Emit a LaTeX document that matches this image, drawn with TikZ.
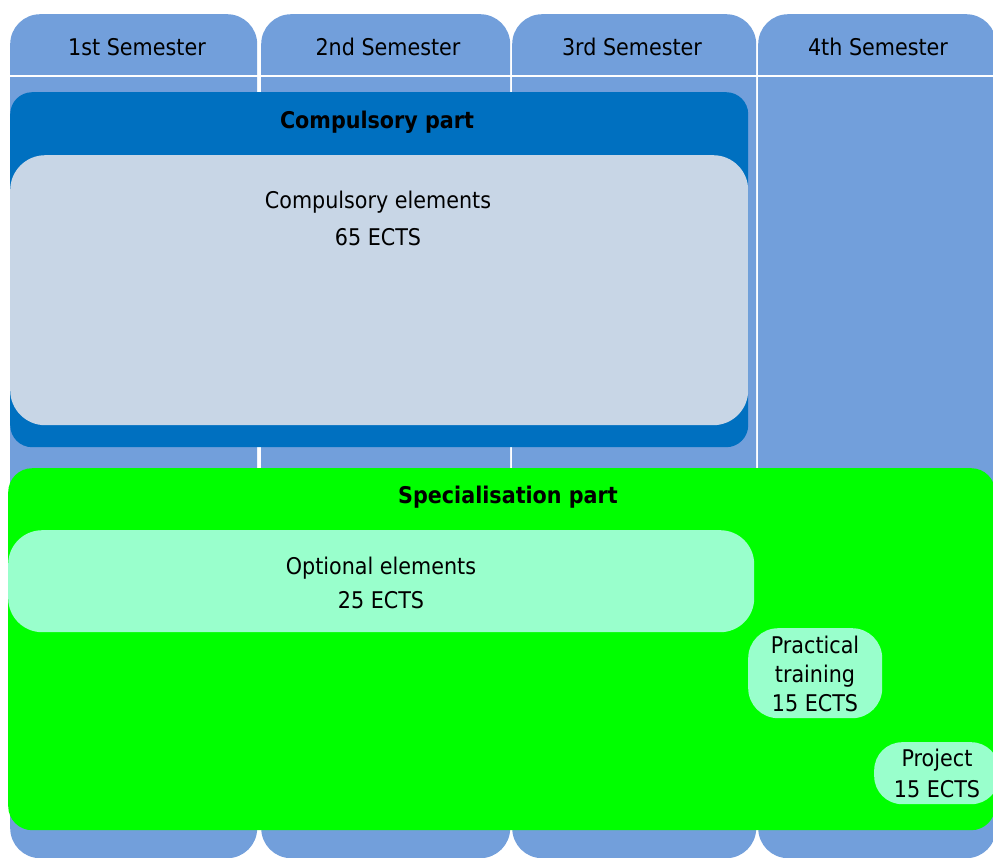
\documentclass[tikz,border=0pt]{standalone}
\usepackage{fontspec}
\setmainfont{DejaVu Sans Condensed}
\definecolor{colblue}{RGB}{114,159,219}
\definecolor{darkblue}{RGB}{0,112,192}
\definecolor{paleblue}{RGB}{200,214,230}
\definecolor{brightgreen}{RGB}{0,255,0}
\definecolor{mint}{RGB}{153,255,204}
\tikzset{
  colbox/.style={fill=colblue, draw=none, rounded corners=30pt, anchor=north west, inner sep=0pt, minimum height=844pt},
  area/.style={draw=none, anchor=north west, inner sep=0pt},
  lbl/.style={inner sep=0pt, align=center, text=black},
  hdr/.style={lbl, font=\fontsize{23}{28}\selectfont},
  ttl/.style={lbl, font=\bfseries\fontsize{23}{28}\selectfont},
}
\begin{document}
\begin{tikzpicture}[x=1pt,y=-1pt]
\useasboundingbox (0,0) rectangle (993,857);
\clip (0,0) rectangle (993,857);
% semester columns
\node[colbox, minimum width=247pt] (col1) at (10,14) {};
\node[colbox, minimum width=249pt] (col2) at (261,14) {};
\node[colbox, minimum width=244pt] (col3) at (512,14) {};
\node[colbox, minimum width=238pt] (col4) at (758,14) {};
\coordinate (hl) at (0,76);
\coordinate (hr) at (993,76);
\draw[white, line width=2pt] (hl) -- (hr);
\node[hdr] (h1) at (137,47) {1st Semester};
\node[hdr] (h2) at (388,47) {2nd Semester};
\node[hdr] (h3) at (632,47) {3rd Semester};
\node[hdr] (h4) at (878,47) {4th Semester};
% compulsory part
\node[area, fill=darkblue, rounded corners=22pt, minimum width=738pt, minimum height=355pt] (comp) at (10,92) {};
\node[ttl] (compt) at (377,122) {Compulsory part};
\node[area, fill=paleblue, rounded corners=35pt, minimum width=738pt, minimum height=270pt] (compel) at (10,155) {};
\node[lbl, font=\fontsize{23}{37}\selectfont] (compelt) at (378,218) {Compulsory elements\\65 ECTS};
% specialisation part
\node[area, fill=brightgreen, rounded corners=24pt, minimum width=987pt, minimum height=362pt] (spec) at (8,468) {};
\node[ttl] (spect) at (508,497) {Specialisation part};
\node[area, fill=mint, rounded corners=34pt, minimum width=746pt, minimum height=102pt] (opt) at (8,530) {};
\node[lbl, font=\fontsize{23}{34}\selectfont] (optt) at (381,583) {Optional elements\\25 ECTS};
\node[area, fill=mint, rounded corners=30pt, minimum width=134pt, minimum height=90pt] (prac) at (748,628) {};
\node[lbl, font=\fontsize{23}{29}\selectfont] (pract) at (815,674) {Practical\\training\\15 ECTS};
\node[area, fill=mint, rounded corners=28pt, minimum width=125pt, minimum height=62pt] (proj) at (874,742) {};
\node[lbl, font=\fontsize{23}{31}\selectfont] (projt) at (937,773) {Project\\15 ECTS};
\end{tikzpicture}
\end{document}
